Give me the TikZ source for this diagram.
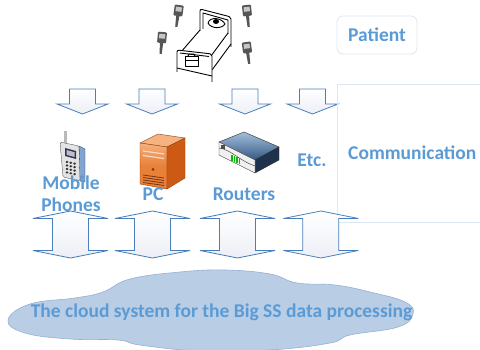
\documentclass[tikz,border=0pt]{standalone}
\usepackage{fontspec}
\setmainfont{Carlito}
\usetikzlibrary{positioning}

\definecolor{txtblue}{RGB}{91,155,213}
\definecolor{arrowline}{RGB}{74,126,187}
\definecolor{arrowfill}{RGB}{236,239,246}
\definecolor{boxline}{RGB}{221,231,242}
\definecolor{cloudfill}{RGB}{185,205,229}
\definecolor{cloudline}{RGB}{150,176,212}
\definecolor{devgray}{RGB}{85,85,85}
\definecolor{pcfront}{RGB}{232,128,56}
\definecolor{pcside}{RGB}{205,90,20}
\definecolor{pctop}{RGB}{246,178,128}

\tikzset{
  lbl/.style={font=\bfseries\fontsize{19.5}{22}\selectfont, text=txtblue,
    inner sep=0pt, anchor=base},
  blockarrow/.style={draw=arrowline, line width=0.8pt, top color=white,
    bottom color=arrowfill},
  % arrow pointing down, from the top edge of the shaft
  downblock/.pic={
    \path[blockarrow] (-13,0) -- (13,0) -- (13,15) -- (25.5,15) -- (0,25)
      -- (-25.5,15) -- (-13,15) -- cycle;
  },
  % two headed arrow, drawn round its middle
  updownblock/.pic={
    \path[blockarrow] (0,-23.5) -- (37.5,-16) -- (18,-16) -- (18,16)
      -- (37.5,16) -- (0,23.5) -- (-37.5,16) -- (-18,16) -- (-18,-16)
      -- (-37.5,-16) -- cycle;
  },
  sensor/.pic={
    \fill[devgray, rounded corners=1pt] (-4.5,-6) rectangle (4.5,5);
    \fill[gray!45] (-3,-4) rectangle (3,0.5);
    \fill[devgray] (-1.6,5) -- (1.6,5) -- (1.1,16) -- (-1.1,16) -- cycle;
  }
}

\begin{document}
\begin{tikzpicture}[x=1pt, y=-1pt]
  \clip (0,0) rectangle (480,350);
  \fill[white] (0,0) rectangle (480,350);

  % bed
  \begin{scope}[line width=0.9pt, line join=round]
    \draw (200,30) -- (181,52);
    \draw (228,33) -- (211,56);
    \draw (231,44) -- (212,70);
    \draw[rounded corners=2pt] (200,31) -- (200,9) -- (231,17) -- (231,47);
    \draw (203,29) -- (203,13) -- (228,20) -- (228,34);
    \draw (208,23) .. controls (210,16) and (222,18) .. (225,24)
      .. controls (222,29) and (211,29) .. (208,23);
    \fill (216,21.5) ellipse (3 and 2.5);
    \draw[fill=white, rounded corners=2pt] (177,72) -- (177,50) -- (212,54)
      -- (212,82);
    \draw (180,53) -- (209,56.5);
    \draw (177,68) -- (212,76);
    \draw (185,56) rectangle (198,66);
    \draw (185,60.5) -- (198,60.5);
    \draw (188,56) -- (189,54) -- (194,54) -- (195,56);
  \end{scope}
  \pic[rotate=-8] at (178.5,11) {sensor};
  \pic[rotate=-5] at (162,38) {sensor};
  \pic[rotate=6] at (247,11) {sensor};
  \pic[rotate=8] at (247,48) {sensor};

  \node[lbl, draw=boxline, line width=0.8pt, rounded corners=6pt,
    minimum width=80pt, minimum height=38pt, anchor=center]
    (patient) at (377,35) {Patient};

  % arrows down to the devices
  \foreach \x in {82.5,152,245,312.5}
    \pic at (\x,89) {downblock};

  % communication devices
  \begin{scope}[line width=0.3pt]
    \fill[gray!55] (63.5,131) rectangle (67,144);
    \draw[arrowline!60!black, fill=arrowline!70] (79,146) -- (85,149)
      -- (85,182) -- (80,181) -- cycle;
    \draw[gray!50!black, fill=gray!22, rounded corners=1.5pt] (60,142)
      -- (79,146) -- (80,181) -- (63,177) -- cycle;
    \fill[black!70!blue!60!gray] (65,148) -- (76,151) -- (76,159) -- (65,156)
      -- cycle;
    \fill[gray!50] (66.5,150) -- (74.5,152.2) -- (74.5,157) -- (66.5,154.8)
      -- cycle;
    \foreach \i in {0,1,2}
      \foreach \j in {0,1,2,3}
        \fill[black!80] ({67+3.8*\i},{162+0.8*\i+3.5*\j}) ellipse (1.5 and 1.2);
  \end{scope}
  \begin{scope}[line width=0.4pt, draw=pcside!70!black]
    \draw[fill=pctop] (140,143) -- (158,134) -- (185,138) -- (167,147) -- cycle;
    \draw[top color=pctop, bottom color=pcfront, middle color=pcfront]
      (140,143) -- (167,147) -- (167,189) -- (140,184) -- cycle;
    \draw[fill=pcside] (167,147) -- (185,138) -- (185,178) -- (167,189)
      -- cycle;
    \foreach \y in {151,155.5}
      \draw[white!70!pcfront, line width=1.2pt] (143,\y) -- (164,\y+3);
    \fill[pcside!60!black] (153,169.5) circle (1.5);
    \foreach \y in {175,177.5,...,183}
      \draw[pcside!60!black, line width=0.8pt] (143,\y) -- (164,\y+3);
  \end{scope}
  \begin{scope}[line width=0.4pt, draw=black!80]
    \draw[top color=arrowline!50, bottom color=arrowline!70!black]
      (219,142) -- (244,132) -- (279,147) -- (255,160) -- cycle;
    \draw[fill=arrowline!40!black] (255,160) -- (279,147) -- (279,160)
      -- (255,173) -- cycle;
    \draw[fill=gray!12] (219,142) -- (255,160) -- (255,173) -- (219,155)
      -- cycle;
    \draw (219,148) .. controls (232,150) and (238,160) .. (255,166);
    \fill[black!70] (221,145) rectangle (225,149);
    \foreach \x in {231,233.5,236,238.5}
      \fill[green!75!black] (\x,{155+0.4*(\x-231)}) rectangle +(1.5,6);
  \end{scope}

  \node[lbl, align=center] (mobile) at (71,211.7) {Mobile\\Phones};
  \node[lbl] (pc) at (153,200.7) {PC};
  \node[lbl] (routers) at (244,200.7) {Routers};
  \node[lbl] (etc) at (312,167) {Etc.};

  \draw[boxline, line width=0.8pt] (485,84) -| (337,222) -- (485,222);
  \node[lbl, anchor=base west] (comm) at (348,159.5) {Communication};

  % links between devices and the cloud
  \foreach \x in {70.5,152.5,237.5,320.8}
    \pic at (\x,234.5) {updownblock};

  % cloud
  \path[draw=cloudline, fill=cloudfill, line width=0.6pt]
    plot[smooth cycle, tension=0.7] coordinates {(8,320) (30,304) (75,298)
      (103,292) (130,279) (180,272) (225,270) (270,274) (297,283) (335,285)
      (370,292) (405,302) (413,314) (398,327) (350,335) (330,343) (270,350)
      (200,351) (140,345) (118,340) (70,339) (25,333)};
  \node[lbl] (cloudtext) at (221.5,317.3)
    {The cloud system for the Big SS data processing};
\end{tikzpicture}
\end{document}
